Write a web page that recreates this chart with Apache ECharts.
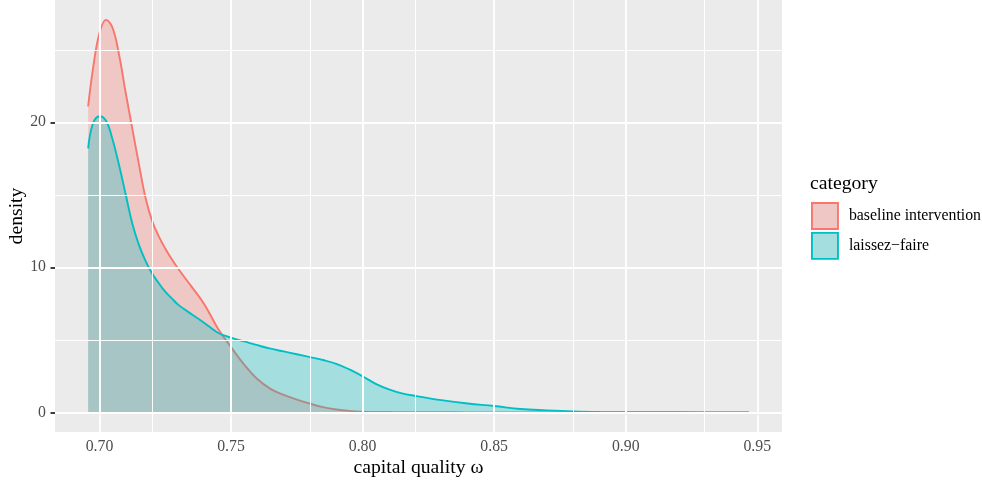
<!DOCTYPE html>
<html>
<head>
<meta charset="utf-8">
<script src="https://cdn.jsdelivr.net/npm/echarts@6/dist/echarts.min.js"></script>
<style>
  html, body { margin: 0; padding: 0; background: #ffffff; }
  #chart { width: 982px; height: 482px; }
</style>
</head>
<body>
<div id="chart"></div>
<script>
// Kernel density estimates of capital quality for the two policy categories
const omega = [0.6957, 0.6975, 0.700, 0.7025, 0.705, 0.7075, 0.710, 0.7125, 0.715, 0.7175,
               0.720, 0.7225, 0.725, 0.7275, 0.730, 0.735, 0.740, 0.745, 0.750, 0.755,
               0.760, 0.765, 0.770, 0.775, 0.780, 0.785, 0.790, 0.795, 0.800, 0.805,
               0.810, 0.815, 0.820, 0.830, 0.840, 0.850, 0.860, 0.870, 0.880, 0.890,
               0.900, 0.920, 0.9468];
const baselineDensity = [21.1, 23.65, 26.15, 27.06, 26.5, 24.6, 22.0, 19.55, 17.1, 14.8,
                         13.2, 12.15, 11.3, 10.55, 9.88, 8.67, 7.41, 5.78, 4.5, 3.29,
                         2.3, 1.62, 1.2, 0.88, 0.6, 0.36, 0.2, 0.1, 0.05, 0.03,
                         0.02, 0.01, 0.01, 0.005, 0.002, 0, 0, 0, 0, 0,
                         0, 0, 0];
const laissezDensity = [18.2, 19.9, 20.42, 20.1, 18.8, 17.0, 15.0, 13.0, 11.55, 10.45,
                        9.58, 8.92, 8.32, 7.86, 7.41, 6.77, 6.15, 5.49, 5.15, 4.89,
                        4.63, 4.39, 4.2, 4.01, 3.81, 3.61, 3.35, 2.96, 2.49, 1.97,
                        1.59, 1.31, 1.14, 0.84, 0.61, 0.44, 0.23, 0.14, 0.07, 0.03,
                        0.01, 0.003, 0];
const categories = ['baseline intervention', 'laissez\u2212faire'];
const xTicks = [0.70, 0.75, 0.80, 0.85, 0.90, 0.95];
const xMinorTicks = [0.725, 0.775, 0.825, 0.875, 0.925];
const yTicks = [0, 10, 20];
const yMinorTicks = [5, 15, 25];

const lineColors = ['#F8766D', '#00BFC4'];
const fillColors = ['rgba(248,118,109,0.3)', 'rgba(0,191,196,0.3)'];
const keyFills = ['#EFC8C5', '#A5DEDF'];
const FONT = '"Liberation Serif", "Times New Roman", serif';

const xMin = 0.6831, xMax = 0.9594;
const yMin = -1.354, yMax = 28.43;

function pairs(xs, ys) { return xs.map((x, i) => [x, ys[i]]); }

const gridLines = [];
xTicks.forEach(v => gridLines.push({ xAxis: v, lineStyle: { width: 1.9 } }));
xMinorTicks.forEach(v => gridLines.push({ xAxis: v, lineStyle: { width: 0.95 } }));
yTicks.forEach(v => gridLines.push({ yAxis: v, lineStyle: { width: 1.9 } }));
yMinorTicks.forEach(v => gridLines.push({ yAxis: v, lineStyle: { width: 0.95 } }));

const densities = [baselineDensity, laissezDensity];

const chart = echarts.init(document.getElementById('chart'), null, { renderer: 'canvas' });
chart.setOption({
  animation: false,
  backgroundColor: '#ffffff',
  grid: {
    left: 55, top: 0, right: 200, bottom: 50,
    containLabel: false, outerBoundsMode: 'none',
    show: true, backgroundColor: '#EBEBEB', borderWidth: 0
  },
  xAxis: {
    type: 'value', min: xMin, max: xMax,
    name: 'capital quality \u03c9', nameLocation: 'middle', nameGap: 25.5, nameMoveOverlap: false,
    nameTextStyle: { fontFamily: FONT, fontSize: 19.7, color: '#000000' },
    axisLine: { show: false },
    axisTick: { show: true, length: 4.5, customValues: xTicks, lineStyle: { color: '#333333', width: 1.9 } },
    axisLabel: { customValues: xTicks, margin: 7, fontFamily: FONT, fontSize: 15.8, color: '#4D4D4D',
                 formatter: v => v.toFixed(2) },
    splitLine: { show: false }
  },
  yAxis: {
    type: 'value', min: yMin, max: yMax,
    name: 'density', nameLocation: 'middle', nameGap: 28, nameRotate: 90, nameMoveOverlap: false,
    nameTextStyle: { fontFamily: FONT, fontSize: 19.7, color: '#000000' },
    axisLine: { show: false },
    axisTick: { show: true, length: 4.5, customValues: yTicks, lineStyle: { color: '#333333', width: 1.9 } },
    axisLabel: { customValues: yTicks, margin: 9, fontFamily: FONT, fontSize: 15.8, color: '#4D4D4D',
                 formatter: v => String(v) },
    splitLine: { show: false }
  },
  legend: {
    orient: 'vertical', left: 811, top: 202, padding: 0,
    itemWidth: 26, itemHeight: 26, itemGap: 2, icon: 'rect',
    selectedMode: false,
    textStyle: { fontFamily: FONT, fontSize: 15.8, color: '#000000', padding: [0, 0, 0, 6], overflow: 'none' },
    data: categories.map((name, i) => ({
      name: name,
      itemStyle: { color: keyFills[i], borderColor: lineColors[i], borderWidth: 1.9 }
    }))
  },
  graphic: [{
    type: 'text', left: 810, top: 174,
    style: { text: 'category', font: '19.7px ' + FONT, fill: '#000000' }
  }],
  series: [
    {
      type: 'line', name: '__grid', data: [], z: 1, silent: true,
      markLine: {
        silent: true, symbol: ['none', 'none'], animation: false,
        label: { show: false },
        lineStyle: { color: '#FFFFFF', type: 'solid' },
        emphasis: { disabled: true },
        data: gridLines
      }
    }
  ].concat(categories.map((name, i) => ({
    type: 'line', name: name, z: 2 + i,
    data: pairs(omega, densities[i]),
    showSymbol: false, symbol: 'none',
    smooth: 0.4,
    lineStyle: { color: lineColors[i], width: 1.9 },
    itemStyle: { color: lineColors[i] },
    areaStyle: { color: fillColors[i], opacity: 1, origin: 0 },
    emphasis: { disabled: true }
  })))
});
</script>
</body>
</html>
